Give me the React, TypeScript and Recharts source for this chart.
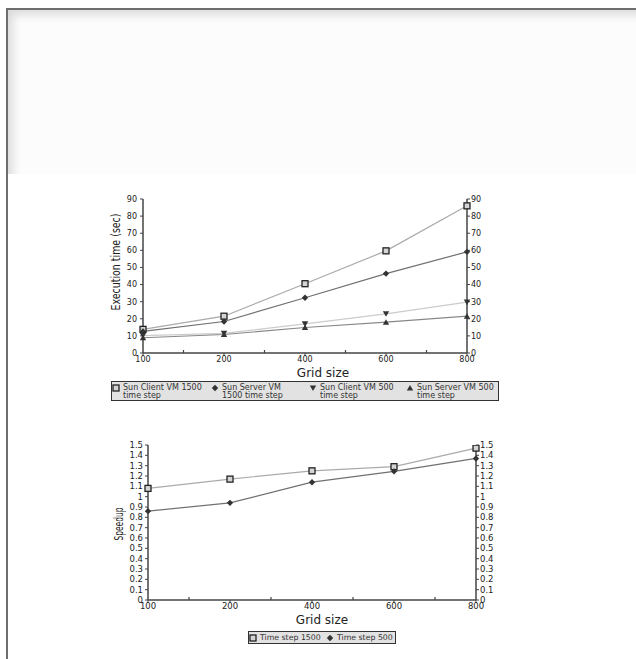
import React from 'react';
import { LineChart, Line, XAxis, YAxis, Legend } from 'recharts';

// ---------- data ----------
const gridSizes = ['100', '200', '400', '600', '800'];

const sunClientVM1500 = [13.8, 21.5, 40.5, 59.7, 86];
const sunServerVM1500 = [12.6, 18.4, 32.3, 46.4, 59.1];
const sunClientVM500 = [10.2, 11.5, 17, 22.9, 29.7];
const sunServerVM500 = [8.9, 10.8, 14.9, 18, 21.5];

const speedup1500 = [1.08, 1.17, 1.25, 1.29, 1.47];
const speedup500 = [0.86, 0.94, 1.14, 1.245, 1.37];

const execTicks = [0, 10, 20, 30, 40, 50, 60, 70, 80, 90];
const speedupTicks = [0, 0.1, 0.2, 0.3, 0.4, 0.5, 0.6, 0.7, 0.8, 0.9, 1, 1.1, 1.2, 1.3, 1.4, 1.5];

const execKeys = ['c1500', 's1500', 'c500', 's500'];
const speedupKeys = ['t1500', 't500'];
const execNames: Record<string, string> = {
  c1500: 'Sun Client VM 1500\ntime step',
  s1500: 'Sun Server VM\n1500 time step',
  c500: 'Sun Client VM 500\ntime step',
  s500: 'Sun Server VM 500\ntime step',
};
const speedupNames: Record<string, string> = { t1500: 'Time step 1500', t500: 'Time step 500' };

const execData = gridSizes.map((g, i) => ({
  grid: g,
  c1500: sunClientVM1500[i],
  s1500: sunServerVM1500[i],
  c500: sunClientVM500[i],
  s500: sunServerVM500[i],
}));
const speedupData = gridSizes.map((g, i) => ({
  grid: g,
  t1500: speedup1500[i],
  t500: speedup500[i],
}));

const shapeOf: Record<string, string> = {
  c1500: 'square',
  s1500: 'diamond',
  c500: 'down',
  s500: 'up',
  t1500: 'square',
  t500: 'diamond',
};

const FONT = '"DejaVu Sans", Verdana, sans-serif';
const COND = '"DejaVu Sans Condensed", "Liberation Sans Narrow", "DejaVu Sans", sans-serif';
const AXIS = '#444';
const TEXT = '#222';

function Marker({ shape, cx, cy }: { shape: string; cx: number; cy: number }) {
  if (cx == null || cy == null) return null;
  if (shape === 'square')
    return <rect x={cx - 3} y={cy - 3} width={6} height={6} fill="#d4d4d4" stroke="#222" strokeWidth={1.3} />;
  if (shape === 'diamond')
    return <polygon points={`${cx},${cy - 3.2} ${cx + 3.2},${cy} ${cx},${cy + 3.2} ${cx - 3.2},${cy}`} fill="#333" />;
  if (shape === 'down')
    return <polygon points={`${cx - 3.2},${cy - 2.6} ${cx + 3.2},${cy - 2.6} ${cx},${cy + 3}`} fill="#333" />;
  return <polygon points={`${cx - 3.2},${cy + 2.6} ${cx + 3.2},${cy + 2.6} ${cx},${cy - 3}`} fill="#333" />;
}

const dotFor = (key: string) => (p: any) => (
  <Marker key={`${key}-${p.index}`} shape={shapeOf[key]} cx={p.cx} cy={p.cy} />
);

// x tick: label plus a small minor tick (pointing up) halfway to the next category
const xTick = (fontSize: number) => (p: any) => {
  const { x, y, payload, index, visibleTicksCount, width } = p;
  const axisY = y - 3;
  const step = visibleTicksCount > 1 ? width / (visibleTicksCount - 1) : 0;
  return (
    <g>
      {index < visibleTicksCount - 1 && (
        <line x1={x + step / 2} x2={x + step / 2} y1={axisY} y2={axisY - 3} stroke={AXIS} strokeWidth={1.2} />
      )}
      <text x={x} y={y} dy="0.71em" textAnchor="middle" fontFamily={FONT} fontSize={fontSize} fill={TEXT}>
        {payload.value}
      </text>
    </g>
  );
};

const xTitle = (dx: number, dy: number) => (p: any) => {
  const vb = p.viewBox || {};
  return (
    <text x={vb.x + vb.width / 2 + dx} y={vb.y + dy} textAnchor="middle" dominantBaseline="central"
      fontFamily={FONT} fontSize={12} fill={TEXT}>Grid size</text>
  );
};

const yTitle = (text: string, dx: number, dy: number, len: number, size: number) => (p: any) => {
  const vb = p.viewBox || {};
  const cx = vb.x + dx;
  const cy = vb.y + vb.height / 2 + dy;
  return (
    <text x={cx} y={cy} transform={`rotate(-90 ${cx} ${cy})`} textAnchor="middle" dominantBaseline="central"
      fontFamily={COND} fontSize={size} fill={TEXT} textLength={len} lengthAdjust="spacingAndGlyphs">{text}</text>
  );
};

const legendContent = (fontSize: number, itemWidths: number[], keys: string[], names: Record<string, string>) => (props: any) => {
  const payload = props.payload || [];
  const ordered = keys.map((k) => payload.find((p: any) => p.dataKey === k)).filter(Boolean);
  return (
    <div style={{
      display: 'flex', boxSizing: 'border-box', width: '100%', height: '100%',
      border: '1px solid #333', background: '#e2e2e2', fontFamily: FONT, fontSize,
      color: '#333', lineHeight: `${fontSize * 0.95}px`, paddingTop: 2,
    }}>
      {ordered.map((item: any, i: number) => (
        <div key={i} style={{ display: 'flex', alignItems: 'flex-start', width: itemWidths[i], flex: 'none', boxSizing: 'border-box', whiteSpace: 'pre' }}>
          <svg width={8} height={8} style={{ flex: 'none', marginRight: 3 }}>
            <Marker shape={shapeOf[item.dataKey]} cx={4} cy={4} />
          </svg>
          <span>{names[item.dataKey]}</span>
        </div>
      ))}
    </div>
  );
};

const tickStyle = (size: number) => ({ fontSize: size, fill: TEXT, fontFamily: FONT });

function ExecChart() {
  return (
    <LineChart width={636} height={420} data={execData}
      margin={{ top: 199, right: 129, bottom: 37, left: 103 }}>
      <XAxis dataKey="grid" interval={0} height={30} axisLine={{ stroke: AXIS, strokeWidth: 1.5 }}
        tickLine={{ stroke: AXIS }} tickSize={3} tickMargin={0} tick={xTick(8)}
        label={{ content: xTitle(18, 20) }} />
      <YAxis domain={[0, 90]} ticks={execTicks} interval={0} width={40} allowDataOverflow
        axisLine={{ stroke: AXIS, strokeWidth: 1.5 }} tickLine={{ stroke: AXIS }} tickSize={3} tickMargin={3}
        tick={tickStyle(8)} label={{ content: yTitle('Execution time (sec)', 13, -14, 97, 11.5) }} />
      <YAxis yAxisId="right" orientation="right" domain={[0, 90]} ticks={execTicks} interval={0} width={40}
        allowDataOverflow axisLine={{ stroke: AXIS, strokeWidth: 1.5 }} tickLine={{ stroke: AXIS }}
        tickSize={3} tickMargin={1} tick={tickStyle(8)} />
      <Line dataKey="c1500" name={execNames.c1500} stroke="#aaaaaa" strokeWidth={1.2} dot={dotFor('c1500')} isAnimationActive={false} />
      <Line dataKey="s1500" name={execNames.s1500} stroke="#707070" strokeWidth={1.2} dot={dotFor('s1500')} isAnimationActive={false} />
      <Line dataKey="c500" name={execNames.c500} stroke="#cccccc" strokeWidth={1.2} dot={dotFor('c500')} isAnimationActive={false} />
      <Line dataKey="s500" name={execNames.s500} stroke="#888888" strokeWidth={1.2} dot={dotFor('s500')} isAnimationActive={false} />
      <Legend layout="horizontal" verticalAlign="middle" align="center"
        wrapperStyle={{ left: 111, top: 381, width: 388, height: 20 }}
        content={legendContent(8, [99, 98, 97, 92], execKeys, execNames)} />
    </LineChart>
  );
}

function SpeedupChart() {
  return (
    <LineChart width={636} height={239} data={speedupData}
      margin={{ top: 25, right: 120, bottom: 29, left: 108 }}>
      <XAxis dataKey="grid" interval={0} height={30} axisLine={{ stroke: AXIS, strokeWidth: 1.5 }}
        tickLine={{ stroke: AXIS }} tickSize={3} tickMargin={0} tick={xTick(8.5)}
        label={{ content: xTitle(10, 20) }} />
      <YAxis domain={[0, 1.5]} ticks={speedupTicks} interval={0} width={40} allowDataOverflow
        axisLine={{ stroke: AXIS, strokeWidth: 1.5 }} tickLine={{ stroke: AXIS }} tickSize={3} tickMargin={2}
        tick={tickStyle(8.5)} label={{ content: yTitle('Speedup', 11, 1.5, 33, 12) }} />
      <YAxis yAxisId="right" orientation="right" domain={[0, 1.5]} ticks={speedupTicks} interval={0} width={40}
        allowDataOverflow axisLine={{ stroke: AXIS, strokeWidth: 1.5 }} tickLine={{ stroke: AXIS }}
        tickSize={3} tickMargin={1} tick={tickStyle(8.5)} />
      <Line dataKey="t1500" name={speedupNames.t1500} stroke="#aaaaaa" strokeWidth={1.2} dot={dotFor('t1500')} isAnimationActive={false} />
      <Line dataKey="t500" name={speedupNames.t500} stroke="#707070" strokeWidth={1.2} dot={dotFor('t500')} isAnimationActive={false} />
      <Legend layout="horizontal" verticalAlign="middle" align="center"
        wrapperStyle={{ left: 248, top: 211, width: 148, height: 13 }}
        content={legendContent(7.8, [77, 69], speedupKeys, speedupNames)} />
    </LineChart>
  );
}

export default function App() {
  return (
    <div style={{ position: 'absolute', left: 0, top: 0, width: 636, height: 659, background: '#fff', overflow: 'hidden' }}>
      <div style={{
        position: 'absolute', left: 8, top: 10, width: 628, height: 164, background: '#fcfcfc',
        boxShadow: 'inset 9px 9px 9px -4px #dcdcdc',
      }} />
      <div style={{ position: 'absolute', left: 6, top: 8, width: 630, height: 651, borderLeft: '2px solid #6e6e6e', borderTop: '2px solid #6e6e6e', boxSizing: 'border-box' }} />
      <div style={{ position: 'absolute', left: 0, top: 0 }}>
        <ExecChart />
      </div>
      <div style={{ position: 'absolute', left: 0, top: 420 }}>
        <SpeedupChart />
      </div>
    </div>
  );
}
